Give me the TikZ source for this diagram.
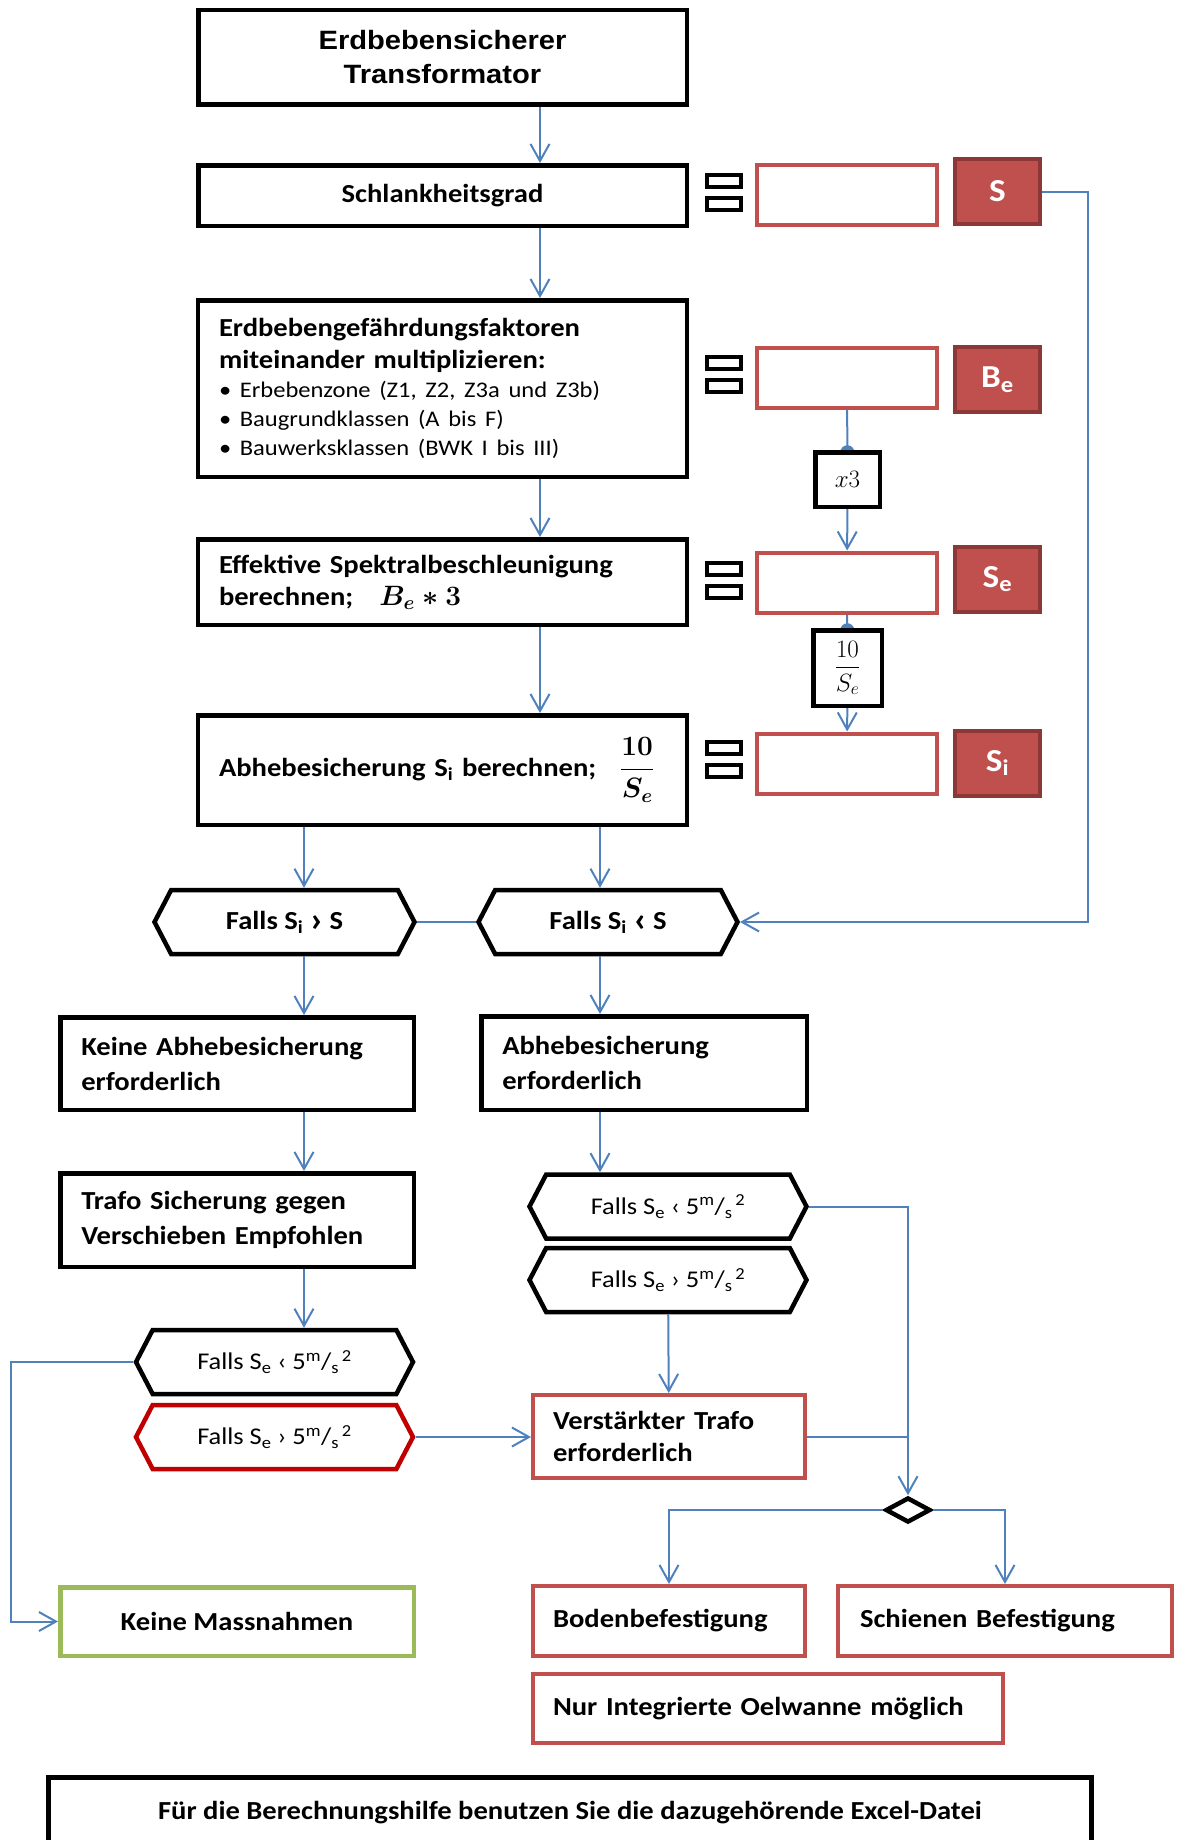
\RequirePackage{fix-cm}
\documentclass[tikz,border=0pt]{standalone}
\usepackage{amsmath,bm}
\usepackage{fontspec}
\setmainfont{Carlito}[FakeStretch=1.1]
\newfontfamily\titlefont{Liberation Sans}[FakeStretch=1.1]
\usetikzlibrary{arrows.meta,positioning,shapes.geometric,shapes.symbols,backgrounds}

\definecolor{flowblue}{HTML}{4F81BD}
\definecolor{accred}{HTML}{C0504D}
\definecolor{darkred}{HTML}{8C3836}
\definecolor{alertred}{HTML}{C00000}
\definecolor{accgreen}{HTML}{9BBB59}

\newcommand{\titletxt}{\titlefont\fontsize{26.5}{34}\selectfont\bfseries}
\newcommand{\boldtxt}{\fontsize{26}{32}\selectfont\bfseries}
\newcommand{\listtxt}{\fontsize{22.3}{29}\selectfont\mdseries}
\newcommand{\condtxt}{\fontsize{24}{28}\selectfont\mdseries}
\newcommand{\symtxt}{\fontsize{32}{36}\selectfont\bfseries}
\newcommand{\mathtxt}{\fontsize{28}{32}\selectfont\boldmath}
\newcommand{\optxt}{\fontsize{25}{30}\selectfont}
\newcommand{\bottxt}{\fontsize{26}{30}\selectfont\bfseries}
\newcommand{\unitms}{5\textsuperscript{m}/\textsubscript{s}\textsuperscript{\,2}}
\newcommand{\gtmark}{\raisebox{-0.08em}{\scalebox{1.35}{›}}}
\newcommand{\ltmark}{\raisebox{-0.08em}{\scalebox{1.35}{‹}}}

\begin{document}
\begin{tikzpicture}[x=1pt, y=-1pt,
    box/.style={draw, line width=4.5pt, fill=white, inner sep=0pt, font=\boldtxt, align=center},
    lbox/.style={box, align=left, inner xsep=21pt},
    rbox/.style={lbox, draw=accred, line width=4pt, inner xsep=20pt},
    redbox/.style={draw=accred, line width=4pt, fill=white, inner sep=0pt, minimum width=180pt, minimum height=60pt},
    symbox/.style={draw=darkred, fill=accred, line width=4pt, text=white, font=\symtxt, inner sep=0pt, minimum width=85pt, minimum height=65pt},
    opbox/.style={draw, line width=4.5pt, fill=white, inner sep=0pt, font=\optxt},
    hexa/.style={draw, line width=4.5pt, fill=white, shape=signal, signal to=east and west, signal pointer angle=125, inner sep=0pt, minimum width=277pt, minimum height=64pt, font=\condtxt},
    eqbar/.style={draw, line width=4pt, minimum width=34pt, minimum height=12pt, inner sep=0pt},
    wire/.style={draw=flowblue, line width=2pt, -{Straight Barb[length=17pt, width=19pt]}},
    link/.style={draw=flowblue, line width=2pt},
    dot/.style={draw=flowblue, line width=2pt, -{Circle[length=14pt]}, shorten >=-9.25pt}
  ]
  \useasboundingbox (0,0) rectangle (1176,1840);

  % main column
  \node[box, font=\titletxt, minimum width=488.5pt, minimum height=94.5pt] (trafo) at (442.5,57) {Erdbebensicherer\\Transformator};
  \node[box, minimum width=488.5pt, minimum height=60.5pt] (slank) at (442.5,195.5) {Schlankheitsgrad};
  \node[lbox, text width=447pt, minimum height=176.5pt] (factors) at (442.5,388.5)
    {Erdbebengefährdungsfaktoren\\ miteinander multiplizieren:\\[-3pt]
     {\listtxt • Erbebenzone (Z1, Z2, Z3a und Z3b)}\\[-3pt]
     {\listtxt • Baugrundklassen (A bis F)}\\[-3pt]
     {\listtxt • Bauwerksklassen (BWK I bis III)}};
  \node[lbox, text width=447pt, minimum height=85.5pt] (spectral) at (442.5,582)
    {Effektive Spektralbeschleunigung\\ berechnen;\hspace{26pt}{\mathtxt$B_e \ast 3$}};
  \node[lbox, text width=447pt, minimum height=109.5pt] (lift) at (442.5,770)
    {Abhebesicherung S\textsubscript{i} berechnen;\hspace{24pt}{\mathtxt$\dfrac{10}{S_e}$}};

  % value column
  \foreach \n/\y in {1/192.5, 2/374, 3/580, 4/759} {
    \node[eqbar] (eq\n a) at (724,\y-11.5) {};
    \node[eqbar] (eq\n b) at (724,\y+11.5) {};
  }
  \foreach \n/\y in {1/195, 2/377.5, 3/582.5, 4/763.5}
    \node[redbox] (val\n) at (847,\y) {};
  \node[symbox] (symS) at (997.5,191.5) {S};
  \node[symbox] (symB) at (997.5,379.5) {B\textsubscript{e}};
  \node[symbox] (symSe) at (997.5,579) {S\textsubscript{e}};
  \node[symbox] (symSi) at (997.5,763) {S\textsubscript{i}};
  \node[opbox, minimum width=64.5pt, minimum height=54.5pt] (times) at (847.5,479.5) {$x3$};
  \node[opbox, minimum width=68.5pt, minimum height=75.5pt] (recip) at (847.5,668) {$\dfrac{10}{S_e}$};

  % decisions
  \node[hexa, font=\boldtxt, minimum width=260pt] (bigger) at (284.5,922) {Falls S\textsubscript{i} \gtmark\ S};
  \node[hexa, font=\boldtxt, minimum width=259pt] (smaller) at (608,922) {Falls S\textsubscript{i} \ltmark\ S};
  \node[lbox, text width=311.5pt, minimum height=92.5pt] (nolift) at (237,1063.5) {Keine Abhebesicherung\\[3pt] erforderlich};
  \node[lbox, text width=283.5pt, minimum height=93.5pt] (needlift) at (644,1063) {Abhebesicherung\\[3pt] erforderlich};
  \node[lbox, text width=311.5pt, minimum height=93.5pt] (shift) at (237,1220) {Trafo Sicherung gegen\\[3pt] Verschieben Empfohlen};
  \node[hexa] (rlow) at (668,1206.5) {Falls S\textsubscript{e} ‹ \unitms};
  \node[hexa] (rhigh) at (668,1280) {Falls S\textsubscript{e} › \unitms};
  \node[hexa] (llow) at (274.5,1362) {Falls S\textsubscript{e} ‹ \unitms};
  \node[hexa, draw=alertred] (lhigh) at (274.5,1437) {Falls S\textsubscript{e} › \unitms};
  \node[rbox, text width=232pt, minimum height=83pt] (strong) at (669,1436.5) {Verstärkter Trafo\\ erforderlich};
  \node[draw, diamond, line width=4.5pt, fill=white, inner sep=0pt, minimum width=45pt, minimum height=25pt] (split) at (908,1510) {};

  % measures
  \node[box, draw=accgreen, minimum width=353.5pt, minimum height=68.5pt] (none) at (237,1621.5) {Keine Massnahmen};
  \node[rbox, text width=232pt, minimum height=70pt] (floor) at (669,1621) {Bodenbefestigung};
  \node[rbox, text width=290pt, inner xsep=22pt, minimum height=70pt] (rails) at (1005,1621) {Schienen Befestigung};
  \node[rbox, text width=430pt, minimum height=69pt] (tray) at (768,1708.5) {Nur Integrierte Oelwanne möglich};
  \node[box, font=\bottxt, minimum width=1043pt, minimum height=71.5pt] (excel) at (570,1813) {Für die Berechnungshilfe benutzen Sie die dazugehörende Excel-Datei};

  \coordinate (colA) at (540,0);
  \coordinate (colL) at (304,0);
  \coordinate (colM) at (600,0);
  \coordinate (railR) at (1088,0);
  \coordinate (railL) at (11,0);

  \begin{pgfonlayer}{background}
    \draw[dot] (val2) -- (times);
    \draw[dot] (val3) -- (recip);
  \end{pgfonlayer}

  \draw[wire] (trafo.south -| colA) -- (slank.north -| colA);
  \draw[wire] (slank.south -| colA) -- (factors.north -| colA);
  \draw[wire] (factors.south -| colA) -- (spectral.north -| colA);
  \draw[wire] (spectral.south -| colA) -- (lift.north -| colA);
  \draw[wire] (times) -- (val3);
  \draw[wire] (recip) -- (val4);
  \draw[wire] (symS.east) -- (symS.east -| railR) -- (smaller.east -| railR) -- (smaller.east);
  \draw[wire] (lift.south -| colL) -- (bigger.north -| colL);
  \draw[wire] (lift.south -| colM) -- (smaller.north -| colM);
  \draw[link] (bigger.east) -- (smaller.west);
  \draw[wire] (bigger.south -| colL) -- (nolift.north -| colL);
  \draw[wire] (smaller.south -| colM) -- (needlift.north -| colM);
  \draw[wire] (nolift.south -| colL) -- (shift.north -| colL);
  \draw[wire] (needlift.south -| colM) -- (rlow.north -| colM);
  \draw[wire] (shift.south -| colL) -- (llow.north -| colL);
  \draw[wire] (rhigh) -- (strong);
  \draw[wire] (rlow.east) -- (rlow.east -| split) -- (split.north);
  \draw[link] (strong.east) -- (strong.east -| split);
  \draw[wire] (lhigh.east) -- (lhigh.east -| strong.west);
  \draw[wire] (llow.west) -- (llow.west -| railL) -- (none.west -| railL) -- (none.west);
  \draw[wire] (split.west) -- (split.west -| floor) -- (floor.north);
  \draw[wire] (split.east) -- (split.east -| rails) -- (rails.north);
\end{tikzpicture}
\end{document}
